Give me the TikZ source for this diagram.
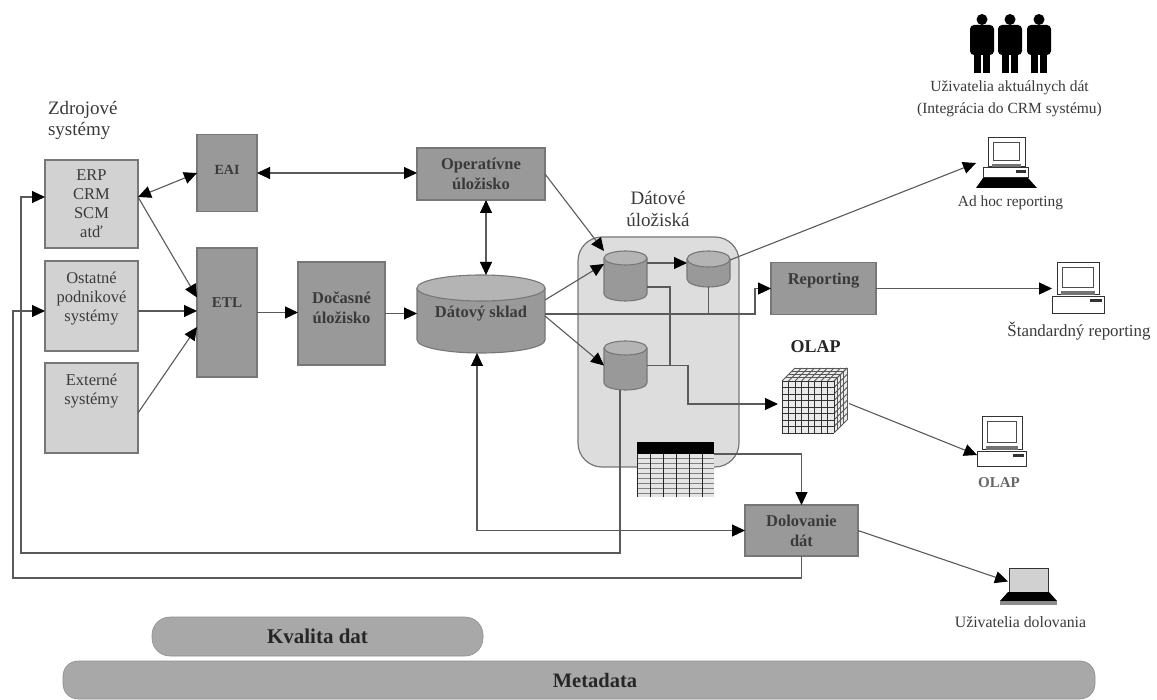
\documentclass[tikz,border=0pt]{standalone}
\usepackage{fontspec}
\setmainfont{Liberation Serif}
\usetikzlibrary{arrows.meta}
\definecolor{linec}{HTML}{5A5A5A}
\definecolor{boxl}{HTML}{D2D2D2}
\definecolor{boxd}{HTML}{999999}
\definecolor{edgec}{HTML}{777777}
\definecolor{contc}{HTML}{DDDDDD}
\definecolor{topc}{HTML}{B4B4B4}
\definecolor{txtc}{HTML}{3A3A3A}
\definecolor{pillc}{HTML}{A8A8A8}
\tikzset{
  basebox/.style={draw=edgec,line width=1.2pt,inner sep=0pt,outer sep=0pt,align=center,text=txtc},
  srcbox/.style={basebox,fill=boxl,minimum width=93pt,font=\fontsize{16.5}{19}\selectfont},
  procbox/.style={basebox,fill=boxd,font=\fontsize{16.5}{20}\selectfont\bfseries},
  anchorbox/.style={inner sep=0pt,outer sep=0pt},
  lab/.style={text=txtc,align=center,inner sep=0pt,outer sep=0pt},
  conn/.style={draw=linec,line width=1.1pt},
  tip/.style={},
  arr/.style={conn,-{Triangle[length=13pt,width=12pt,color=black,fill=black]}},
  darr/.style={conn,{Triangle[length=13pt,width=12pt,color=black,fill=black]}-{Triangle[length=13pt,width=12pt,color=black,fill=black]}},
  pill/.style={fill=pillc,draw=pillc!85!black,line width=.6pt,rounded corners=15pt,inner sep=0pt,outer sep=0pt,text=black!85},
}
% name, x0,y0,x1,y1, ry, text
\newcommand{\cylin}[7]{%
  \fill[boxd] (#2,#3+#6) -- (#4,#3+#6) -- (#4,#5-#6) arc[start angle=0,end angle=-180,x radius={(#4-#2)/2},y radius=-#6] -- cycle;
  \draw[edgec,line width=1.1pt] (#2,#3+#6) -- (#2,#5-#6) arc[start angle=180,end angle=360,x radius={(#4-#2)/2},y radius=-#6] -- (#4,#3+#6);
  \draw[edgec,line width=1.1pt,fill=topc] ({(#2+#4)/2},#3+#6) ellipse[x radius={(#4-#2)/2},y radius=#6];
  \node[anchorbox,minimum width={(#4-#2)*1pt},minimum height={(#5-#3)*1pt},font=\fontsize{16.5}{18}\selectfont\bfseries,text=txtc] (#1) at ({(#2+#4)/2},{(#3+#5)/2}) {#7};
}
% name, monitor x0,y0,x1,y1, base x0,y0,x1,y1
\newcommand{\compu}[9]{%
  \draw[black!80,line width=1pt,fill=white] (#2,#3) rectangle (#4,#5);
  \draw[black!70,line width=1pt,fill=white] ({#2+(#4-#2)*.14},{#3+(#5-#3)*.14}) rectangle ({#4-(#4-#2)*.14},{#5-(#5-#3)*.22});
  \fill[black!55] ({#2+(#4-#2)*.1},{#5-(#5-#3)*.12}) rectangle ({#4-(#4-#2)*.1},#5);
  \draw[black!80,line width=1pt,fill=white] (#6,#7) rectangle (#8,#9);
  \fill[black!80] ({#8-(#8-#6)*.26},#7+2) rectangle ({#8-(#8-#6)*.04},#7+5);
  \node[anchorbox,minimum width={(max(#4,#8)-min(#2,#6))*1pt},minimum height={(#9-#3)*1pt}] (#1) at ({(max(#4,#8)+min(#2,#6))/2},{(#3+#9)/2}) {};
}
\newcommand{\person}[1]{%
  \fill[black] (#1,19.5) circle (5.5);
  \fill[black,rounded corners=4pt] (#1-12,25) rectangle (#1+12,55);
  \fill[black] (#1-8,50) rectangle (#1-1.3,73);
  \fill[black] (#1+1.3,50) rectangle (#1+8,73);
}
\begin{document}
\begin{tikzpicture}[x=1pt,y=-1pt]
\useasboundingbox (0,0) rectangle (1157,700);
\fill[white] (0,0) rectangle (1157,700);

% container
\draw[edgec,line width=1.2pt,fill=contc,rounded corners=24pt] (578,237) rectangle (739,467);

% sources
\node[srcbox,minimum height=88pt] (erp) at (91.5,204) {ERP\\CRM\\SCM\\atď};
\node[srcbox,minimum height=90pt] (ost) at (91.5,306) {Ostatné\\podnikové\\systémy\\~};
\node[srcbox,minimum height=90pt] (ext) at (91.5,408) {Externé\\systémy\\~\\~};
\node[lab,anchor=west,align=left,font=\fontsize{19}{21}\selectfont] (zdroj) at (48,120) {Zdrojové\\systémy};

% process boxes
\node[procbox,font=\fontsize{14}{20}\selectfont\bfseries,minimum width=60pt,minimum height=77pt] (eai) at (227,173) {EAI\\[-14pt]~};
\node[procbox,font=\fontsize{15}{20}\selectfont\bfseries,minimum width=60pt,minimum height=129pt] (etl) at (227,312.5) {ETL\\~};
\node[procbox,minimum width=87pt,minimum height=103pt] (doc) at (341.5,313.5) {Dočasné\\úložisko\\[-8pt]~};
\node[procbox,minimum width=128pt,minimum height=52pt] (oper) at (481,174) {Operatívne\\úložisko};
\node[procbox,minimum width=105pt,minimum height=52pt] (rep) at (823.5,288.5) {Reporting\\~};
\node[procbox,minimum width=113pt,minimum height=51pt] (dol) at (801.5,530.5) {Dolovanie\\dát};

% cylinders
\cylin{sklad}{417}{275}{545}{353}{13}{Dátový sklad}
\cylin{cyla}{604}{251}{647}{301}{7}{}
\cylin{cylb}{687}{251}{730}{287}{8}{}
\cylin{cylc}{604}{341}{647}{390}{7}{}
\node[lab,font=\fontsize{19}{22}\selectfont] (dulo) at (658,209) {Dátové\\úložiská};

% table
\node[anchorbox,minimum width=77pt,minimum height=55pt] (tbl) at (675.5,469.5) {};
\fill[white!90!black] (637,453) rectangle (714,497);
\foreach \yy in {458,463,...,497} \draw[black!50,line width=.8pt] (637,\yy) -- (714,\yy);
\foreach \xx in {637,650,...,714} \draw[black!85,line width=1pt] (\xx,453) -- (\xx,497);
\fill[black] (637,442) rectangle (714,454);

% cube
\node[anchorbox,minimum width=65pt,minimum height=65pt] (cube) at (814.5,400.5) {};
\fill[black!8] (782,381) -- (795,368) -- (847,368) -- (847,420) -- (834,433) -- (782,433) -- cycle;
\foreach \ii in {0,...,8} {
  \draw[black!80,line width=.9pt] (782+6.5*\ii,381) -- (782+6.5*\ii,433);
  \draw[black!80,line width=.9pt] (782,381+6.5*\ii) -- (834,381+6.5*\ii);
  \draw[black!65,line width=.8pt] (782+6.5*\ii,381) -- (795+6.5*\ii,368);
  \draw[black!65,line width=.8pt] (834,381+6.5*\ii) -- (847,368+6.5*\ii);
}
\foreach \ii in {1,2,3} {
  \draw[black!65,line width=.8pt] (782+3.25*\ii,381-3.25*\ii) -- (834+3.25*\ii,381-3.25*\ii);
  \draw[black!65,line width=.8pt] (834+3.25*\ii,381-3.25*\ii) -- (834+3.25*\ii,433-3.25*\ii);
}
\draw[black!65,line width=.8pt] (795,368) -- (847,368) -- (847,420);
\node[lab,font=\fontsize{18}{20}\selectfont\bfseries,text=black!85] (olapt) at (815.5,347) {OLAP};

% people
\person{982}\person{1010}\person{1039}
\node[lab,font=\fontsize{15.5}{22}\selectfont] (uziv) at (1009.5,99) {Uživatelia aktuálnych dát\\(Integrácia do CRM systému)};

% computers
\compu{adhoc}{988}{138}{1025}{167}{983}{168}{1028}{178}
\fill[black] (983,178) -- (1028,178) -- (1037,188) -- (976,188) -- cycle;
\node[anchorbox,minimum width=61pt,minimum height=50pt] (adhocpc) at (1006.5,163) {};
\node[lab,font=\fontsize{15.4}{18}\selectfont] (adhoct) at (1010.5,203) {Ad hoc reporting};
\compu{stdpc}{1057}{263}{1099}{295}{1052}{297}{1104}{314}
\node[lab,font=\fontsize{16.9}{20}\selectfont] (stdt) at (1079,331) {Štandardný reporting};
\compu{olappc}{982}{417}{1022}{450}{977}{452}{1026}{467}
\node[lab,font=\fontsize{15}{17}\selectfont\bfseries,text=black!60] (olapl) at (999,483) {OLAP};
% laptop
\draw[black!80,line width=1pt,fill=black!18] (1009,568) rectangle (1048,592);
\fill[black] (1008,592) -- (1049,592) -- (1057,601) -- (1000,601) -- cycle;
\fill[black!45] (1000,601) rectangle (1057,605);
\node[anchorbox,minimum width=57pt,minimum height=37pt] (lap) at (1028.5,586.5) {};
\node[lab,font=\fontsize{15.8}{18}\selectfont] (lapt) at (1020.5,622) {Uživatelia dolovania};

% pills
\node[pill,minimum width=331pt,minimum height=39pt,rounded corners=18pt,font=\fontsize{21}{24}\selectfont\bfseries] (kval) at (317.5,636.5) {Kvalita dat};
\node[pill,minimum width=1032pt,minimum height=38pt,font=\fontsize{20.5}{24}\selectfont\bfseries] (meta) at (579,680) {\hspace*{32pt}Metadata};

% connectors
\coordinate (loopa) at (21,553);
\coordinate (loopb) at (13,578);
\coordinate (jtop) at (670,287);
\coordinate (jbot) at (670,365.5);
\coordinate (turnc) at (688,365.5);
\coordinate (repturn) at (755,314);

\draw[arr] ([xshift=-5.5pt]cylc.south) |- (loopa) |- ([yshift=7pt]erp.west);
\draw[arr] (dol.south) |- (loopb) |- ([yshift=-5pt]ost.west);
\draw[darr] ([yshift=7pt]erp.east) -- (eai.west);
\draw[arr] ([yshift=7pt]erp.east) -- ([yshift=15pt]etl.west);
\draw[arr] ([yshift=-5pt]ost.east) -- ([yshift=-5pt,xshift=59pt]ost.east);
\draw[arr] ([yshift=-5pt]ext.east) -- ([yshift=-14.5pt]etl.west);
\draw[arr] (etl.east) -- (etl.east -| doc.west);
\draw[arr] (doc.east) -- (doc.east -| sklad.west);
\draw[darr] (eai.east) -- (eai.east -| oper.west);
\draw[darr] ([xshift=5pt]oper.south) -- ([xshift=5pt]sklad.north);
\draw[arr] (oper.east) -- (cyla.north west);
\draw[arr] ([yshift=14pt]sklad.east) -- ([yshift=12pt]cyla.west);
\draw[arr] ([yshift=-2pt]sklad.east) -- (cylc.west);
\draw[arr] (sklad.east) -- (repturn) |- (rep.west);
\draw[arr] ([yshift=13pt]cyla.east) -- ([yshift=13pt,xshift=40pt]cyla.east);
\draw[conn] (cylb.south) -- (cylb.south |- sklad.east);
\draw[arr] ([yshift=9pt]cylb.east) -- (adhocpc.west);
\draw[conn] ([yshift=-11pt]cyla.east) -- (jtop) -- (jbot);
\draw[arr] (cylc.east) -- (turnc) |- ([yshift=-3.5pt,xshift=-4pt]cube.west);
\draw[arr] (rep.east) -- (rep.east -| stdpc.west);
\draw[arr] ([xshift=2pt,yshift=-3pt]cube.east) -- ([yshift=-13pt]olappc.west);
\draw[arr] ([yshift=15.5pt]tbl.east) -| (dol.north);
\draw[darr] ([xshift=-4pt]sklad.south) |- (dol.west);
\draw[arr] (dol.east) -- ([xshift=8pt,yshift=5pt]lap.west);
\end{tikzpicture}
\end{document}
